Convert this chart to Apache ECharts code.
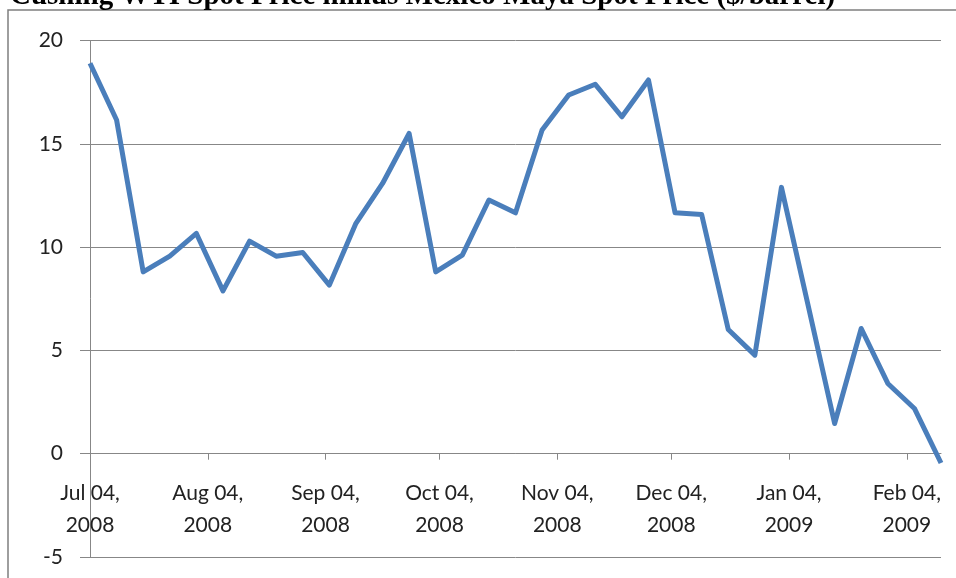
<!DOCTYPE html>
<html>
<head>
<meta charset="utf-8">
<script src="https://cdn.jsdelivr.net/npm/echarts@6/dist/echarts.min.js"></script>
<style>
html,body{margin:0;padding:0;background:#fff;}
#chart{width:956px;height:578px;}
</style>
</head>
<body>
<div id="chart"></div>
<script>
var titleText = 'Cushing WTI Spot Price minus Mexico Maya Spot Price ($/barrel)';

var weekDates = [
  '2008-07-04','2008-07-11','2008-07-18','2008-07-25',
  '2008-08-01','2008-08-08','2008-08-15','2008-08-22','2008-08-29',
  '2008-09-05','2008-09-12','2008-09-19','2008-09-26',
  '2008-10-03','2008-10-10','2008-10-17','2008-10-24','2008-10-31',
  '2008-11-07','2008-11-14','2008-11-21','2008-11-28',
  '2008-12-05','2008-12-12','2008-12-19','2008-12-26',
  '2009-01-02','2009-01-09','2009-01-16','2009-01-23','2009-01-30',
  '2009-02-06','2009-02-13'
];

var spreadValues = [
  18.9, 16.15, 8.8, 9.56,
  10.66, 7.88, 10.29, 9.56, 9.74,
  8.16, 11.15, 13.08, 15.5,
  8.8, 9.61, 12.28, 11.66, 15.67,
  17.36, 17.88, 16.31, 18.09,
  11.66, 11.58, 6.01, 4.77,
  12.89, 7.2, 1.46, 6.06, 3.4,
  2.19, -0.45
];

var tickDates = [
  '2008-07-04','2008-08-04','2008-09-04','2008-10-04',
  '2008-11-04','2008-12-04','2009-01-04','2009-02-04'
];

var yTicks = [-5, 0, 5, 10, 15, 20];

var monthNames = ['Jan','Feb','Mar','Apr','May','Jun','Jul','Aug','Sep','Oct','Nov','Dec'];

function toTime(s) {
  var p = s.split('-');
  return Date.UTC(+p[0], +p[1] - 1, +p[2]);
}
function pad(n) { return (n < 10 ? '0' : '') + n; }

var seriesData = weekDates.map(function (d, i) { return [toTime(d), spreadValues[i]]; });
var tickTimes = tickDates.map(toTime);

var W = 956, H = 578;
var gridLeft = 90, gridRight = 15, gridTop = 40.5, gridBottom = 21;
var yMin = yTicks[0], yMax = yTicks[yTicks.length - 1];
var plotH = H - gridTop - gridBottom;
// distance from the grid bottom (y = yMin) up to the y = 0 line
var zeroOffset = plotH * (0 - yMin) / (yMax - yMin);

var chart = echarts.init(document.getElementById('chart'), null, { renderer: 'canvas' });

var gray = '#878787';
var labelFont = 'Lato';

var xMin = toTime(weekDates[0]);
var xMax = toTime(weekDates[weekDates.length - 1]);

chart.setOption({
  animation: false,
  backgroundColor: '#ffffff',
  title: {
    text: titleText,
    left: 10,
    top: -18,
    padding: 0,
    textStyle: {
      fontFamily: 'Liberation Serif',
      fontWeight: 'bold',
      fontSize: 29,
      color: '#000'
    }
  },
  graphic: [{
    type: 'rect',
    shape: { x: 8, y: 10, width: 960, height: 600 },
    style: { fill: 'none', stroke: '#7f7f7f', lineWidth: 1.5 },
    silent: true,
    z: -1
  }],
  grid: {
    left: gridLeft,
    right: gridRight,
    top: gridTop,
    bottom: gridBottom,
    containLabel: false,
    outerBoundsMode: 'none'
  },
  xAxis: [{
    type: 'value',
    min: xMin,
    max: xMax,
    axisLine: { onZero: true, lineStyle: { color: gray, width: 1 } },
    axisTick: {
      show: true,
      customValues: tickTimes,
      length: 6,
      lineStyle: { color: gray, width: 1 }
    },
    axisLabel: { show: false },
    splitLine: { show: false }
  }, {
    type: 'value',
    position: 'bottom',
    offset: -zeroOffset,
    min: xMin,
    max: xMax,
    axisLine: { show: false, onZero: false },
    axisTick: { show: false },
    splitLine: { show: false },
    axisLabel: {
      show: true,
      customValues: tickTimes,
      margin: 24,
      fontFamily: labelFont,
      fontSize: 21,
      lineHeight: 32,
      color: '#222',
      formatter: function (v) {
        var d = new Date(v);
        return monthNames[d.getUTCMonth()] + ' ' + pad(d.getUTCDate()) + ',\n' + d.getUTCFullYear();
      }
    }
  }],
  yAxis: {
    type: 'value',
    min: yMin,
    max: yMax,
    interval: 5,
    axisLine: { show: true, lineStyle: { color: gray, width: 1 } },
    axisTick: { show: true, length: 10, lineStyle: { color: gray, width: 1 } },
    axisLabel: {
      margin: 27,
      fontFamily: labelFont,
      fontSize: 21,
      color: '#222'
    },
    splitLine: { show: true, lineStyle: { color: gray, width: 1 } }
  },
  series: [{
    type: 'line',
    xAxisIndex: 0,
    data: seriesData,
    showSymbol: false,
    symbol: 'none',
    lineStyle: { color: '#4a7ebb', width: 5, join: 'round' },
    itemStyle: { color: '#4a7ebb' }
  }]
});
</script>
</body>
</html>
